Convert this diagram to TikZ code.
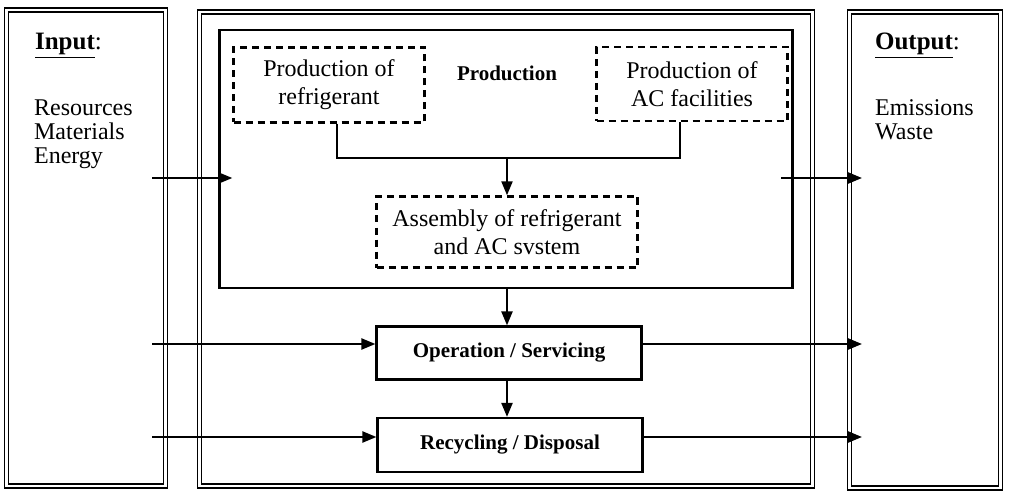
\documentclass[tikz,border=0pt]{standalone}
\usepackage{fontspec}
\setmainfont{Liberation Serif}
\usetikzlibrary{arrows.meta}

\begin{document}
\begin{tikzpicture}[x=1pt, y=-1pt, line width=2.2pt,
    >={Triangle[length=14pt,width=11pt]},
    frame/.style={draw, double, double distance=2.2pt, line width=1.6pt, inner sep=0pt},
    dashbox/.style={draw, dash pattern=on 7pt off 5pt, line width=2.4pt, align=center,
      inner sep=0pt, font=\fontsize{24}{28}\selectfont},
    stagebox/.style={draw, line width=2.2pt, inner sep=0pt, font=\fontsize{21}{24}\selectfont\bfseries},
    listtext/.style={inner sep=0pt, align=left, font=\fontsize{24}{24}\selectfont}]
  \useasboundingbox (0,0) rectangle (1010,492);
  % the three outer frames
  \node[frame, minimum width=159pt, minimum height=476pt] (inbox) at (86,248) {};
  \node[frame, minimum width=613pt, minimum height=474pt] (main) at (506,249) {};
  \node[frame, minimum width=151pt, minimum height=476pt] (outbox) at (925,250) {};
  \node[anchor=base west, inner sep=0pt, font=\fontsize{25}{25}\selectfont] (inlbl) at (34,50) {\textbf{\underline{Input}}:};
  \node[listtext, anchor=north west] (inlist) at (33,99) {Resources\\Materials\\Energy};
  \node[anchor=base west, inner sep=0pt, font=\fontsize{25}{25}\selectfont] (outlbl) at (874,50) {\textbf{\underline{Output}}:};
  \node[listtext, anchor=north west] (outlist) at (874,99) {Emissions\\Waste};
  % production block
  \node[draw, line width=2.2pt, minimum width=573pt, minimum height=258pt] (prod) at (506,159) {};
  \node[inner sep=0pt, font=\fontsize{21}{24}\selectfont\bfseries] (prodlbl) at (507,73) {Production};
  \node[dashbox, minimum width=191pt, minimum height=75pt] (refr) at (329,85) {Production of\\refrigerant};
  \node[dashbox, minimum width=191pt, minimum height=74pt] (acfac) at (692,84) {Production of\\AC facilities};
  \node[dashbox, minimum width=261pt, minimum height=71pt] (assy) at (507,232) {Assembly of refrigerant\\and AC svstem};
  \coordinate (jn) at (507,158);
  \draw ([xshift=8pt]refr.south) |- (jn) -| ([xshift=-12pt]acfac.south);
  \draw[->] (jn) -- (assy.north);
  % later stages
  \node[stagebox, minimum width=265pt, minimum height=53pt] (oper) at (509,353) {Operation / Servicing};
  \node[stagebox, minimum width=265pt, minimum height=54pt] (recyc) at (510,445) {Recycling / Disposal};
  \draw[->] (prod.south -| 507,0) -- (oper.north -| 507,0);
  \draw[->] (oper.south -| 507,0) -- (recyc.north -| 507,0);
  % flows in and out
  \coordinate (in1) at (152,178);
  \coordinate (in2) at (152,344);
  \coordinate (in3) at (152,437);
  \coordinate (out1s) at (781,178);
  \coordinate (out1) at (862,178);
  \coordinate (out2) at (862,344);
  \coordinate (out3) at (862,437);
  \draw[->] (in1) -- (in1 -| refr.west);
  \draw[->] (in2) -- (in2 -| oper.west);
  \draw[->] (in3) -- (in3 -| recyc.west);
  \draw[->] (out1s) -- (out1);
  \draw[->] (oper.east |- out2) -- (out2);
  \draw[->] (recyc.east |- out3) -- (out3);
\end{tikzpicture}
\end{document}
